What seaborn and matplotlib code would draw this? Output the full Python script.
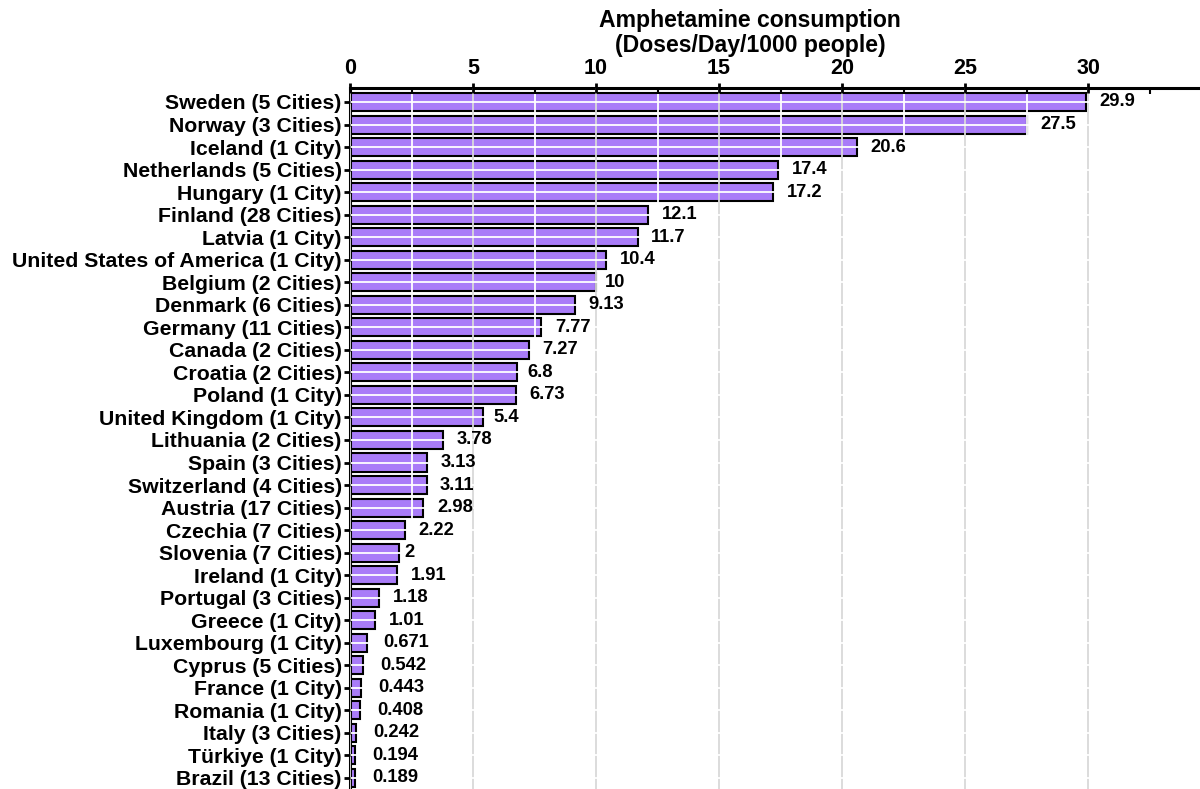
import matplotlib
matplotlib.use("Agg")
import matplotlib.pyplot as plt
import seaborn as sns
import pandas as pd
from matplotlib.ticker import MultipleLocator

countries = [
    "Sweden (5 Cities)", "Norway (3 Cities)", "Iceland (1 City)",
    "Netherlands (5 Cities)", "Hungary (1 City)", "Finland (28 Cities)",
    "Latvia (1 City)", "United States of America (1 City)", "Belgium (2 Cities)",
    "Denmark (6 Cities)", "Germany (11 Cities)", "Canada (2 Cities)",
    "Croatia (2 Cities)", "Poland (1 City)", "United Kingdom (1 City)",
    "Lithuania (2 Cities)", "Spain (3 Cities)", "Switzerland (4 Cities)",
    "Austria (17 Cities)", "Czechia (7 Cities)", "Slovenia (7 Cities)",
    "Ireland (1 City)", "Portugal (3 Cities)", "Greece (1 City)",
    "Luxembourg (1 City)", "Cyprus (5 Cities)", "France (1 City)",
    "Romania (1 City)", "Italy (3 Cities)", "Türkiye (1 City)",
    "Brazil (13 Cities)",
]
doses = [
    29.9, 27.5, 20.6, 17.4, 17.2, 12.1, 11.7, 10.4, 10, 9.13, 7.77, 7.27,
    6.8, 6.73, 5.4, 3.78, 3.13, 3.11, 2.98, 2.22, 2, 1.91, 1.18, 1.01,
    0.671, 0.542, 0.443, 0.408, 0.242, 0.194, 0.189,
]
value_labels = [
    "29.9", "27.5", "20.6", "17.4", "17.2", "12.1", "11.7", "10.4", "10",
    "9.13", "7.77", "7.27", "6.8", "6.73", "5.4", "3.78", "3.13", "3.11",
    "2.98", "2.22", "2", "1.91", "1.18", "1.01", "0.671", "0.542", "0.443",
    "0.408", "0.242", "0.194", "0.189",
]
x_ticks = [0, 5, 10, 15, 20, 25, 30]

df = pd.DataFrame({"country": countries, "doses": doses})

sns.set_theme(style="white")
plt.rcParams["font.family"] = ["Liberation Sans", "DejaVu Sans"]
plt.rcParams["font.weight"] = "bold"
plt.rcParams["text.color"] = "black"
plt.rcParams["xtick.color"] = "black"
plt.rcParams["ytick.color"] = "black"
plt.rcParams["xtick.labelcolor"] = "black"
plt.rcParams["ytick.labelcolor"] = "black"

fig = plt.figure(figsize=(12, 7.89), dpi=100)
ax = fig.add_axes([350 / 1200, 0.0, 850 / 1200, 1 - 88 / 789])

sns.barplot(data=df, x="doses", y="country", orient="h", color="#A97CF8",
            saturation=1, width=0.8, edgecolor="black", linewidth=1.5, ax=ax)

ax.set_xlim(0, 34.55)
ax.set_ylim(30.49, -0.621)
ax.set_xlabel("")
ax.set_ylabel("")

# axis on top
ax.xaxis.tick_top()
ax.set_xticks(x_ticks)
ax.set_xticklabels([str(t) for t in x_ticks], fontsize=15.5,
                   fontweight="bold", color="black")
ax.xaxis.set_minor_locator(MultipleLocator(2.5))
ax.tick_params(axis="x", which="major", direction="inout", length=7, width=2,
               pad=3, colors="black")
ax.tick_params(axis="x", which="minor", direction="in", length=4, width=1.5,
               colors="black", top=True, bottom=False)
ax.tick_params(axis="y", which="major", direction="out", length=4, width=2,
               pad=2, left=True, colors="black")
for lab in ax.get_yticklabels():
    lab.set_fontsize(15.3)
    lab.set_fontweight("bold")
    lab.set_color("black")

for side in ["right", "bottom"]:
    ax.spines[side].set_visible(False)
for side in ["top", "left"]:
    ax.spines[side].set_visible(True)
    ax.spines[side].set_linewidth(2.2)
    ax.spines[side].set_color("black")

# grid drawn above the bars
ax.set_axisbelow(False)
ax.grid(axis="x", which="major", color="#d9d9d9", linewidth=1.3, zorder=2.5)
ax.grid(axis="x", which="minor", color="white", linewidth=1.3, zorder=2.5)
ax.grid(axis="y", which="major", color="white", linewidth=1.3, zorder=2.5)

# value labels, nudged right by a share of their own width
renderer = fig.canvas.get_renderer()
for i, (v, s) in enumerate(zip(doses, value_labels)):
    t = ax.annotate(s, xy=(v, i), xytext=(0, 0), textcoords="offset pixels",
                    ha="left", va="center", fontsize=13.2, fontweight="bold",
                    color="black", zorder=4, annotation_clip=False)
    w = t.get_window_extent(renderer=renderer).width
    t.set_position((0.33 * w + 2, 0))

fig.text(750 / 1200, 1 - 9 / 789,
         "Amphetamine consumption\n(Doses/Day/1000 people)",
         ha="center", va="top", fontsize=16.6, fontweight="bold",
         linespacing=1.1, color="black")

fig.savefig("out.png", dpi=100)
